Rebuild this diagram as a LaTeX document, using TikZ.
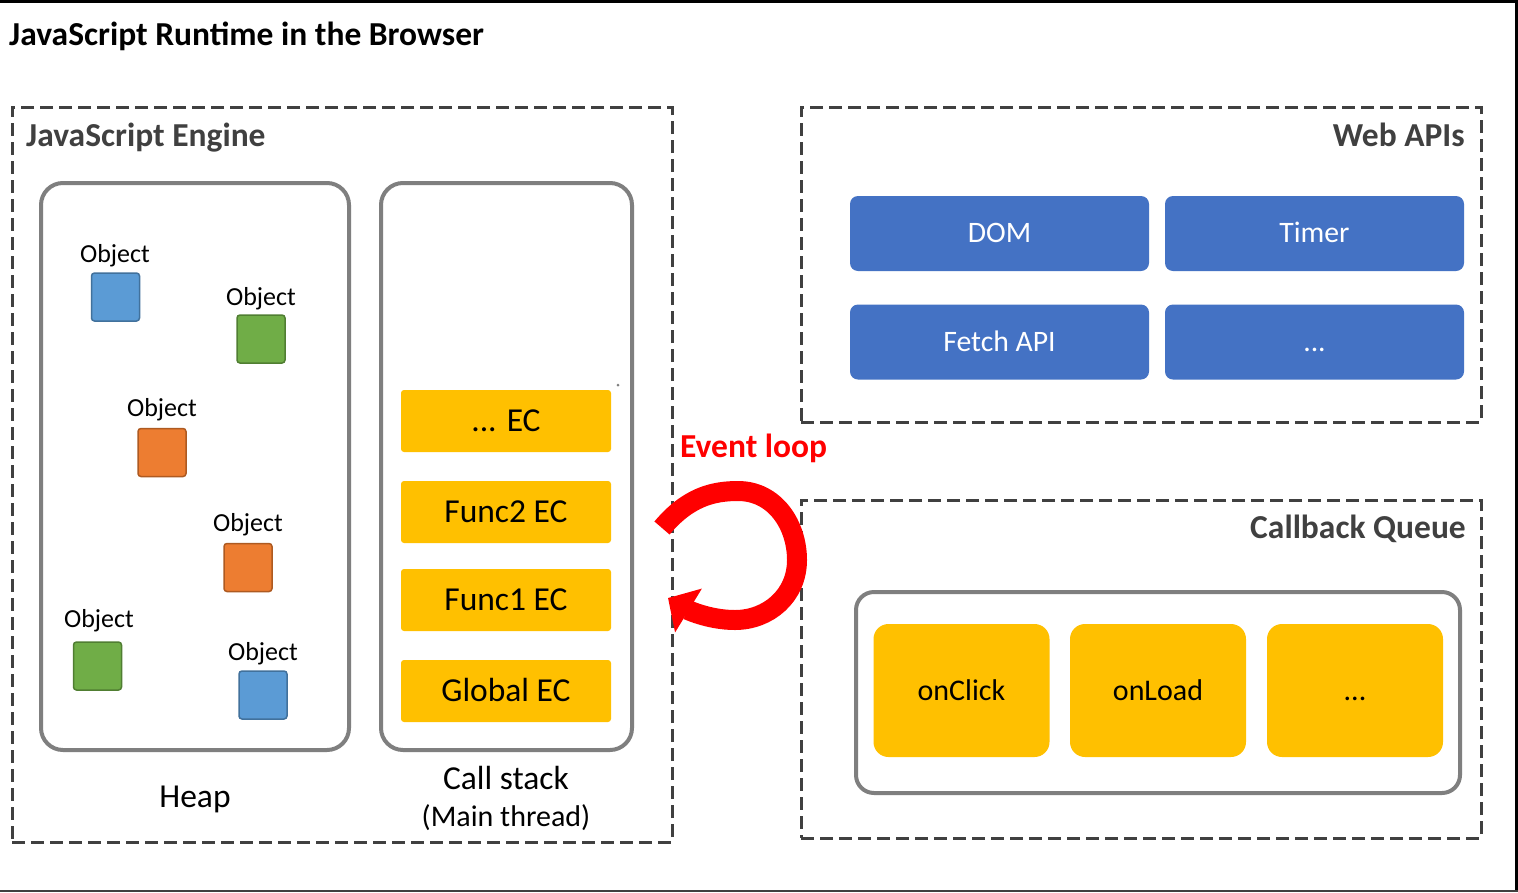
\documentclass[tikz,border=0pt]{standalone}
\usepackage{fontspec}
\setmainfont{Carlito}
\usetikzlibrary{arrows.meta}
\definecolor{dashgray}{HTML}{404040}
\definecolor{panelgray}{HTML}{7F7F7F}
\definecolor{ecyellow}{HTML}{FFC000}
\definecolor{apiblue}{HTML}{4472C4}
\definecolor{objblue}{HTML}{5B9BD5}
\definecolor{objblueb}{HTML}{41719C}
\definecolor{objgreen}{HTML}{70AD47}
\definecolor{objgreenb}{HTML}{507E32}
\definecolor{objorange}{HTML}{ED7D31}
\definecolor{objorangeb}{HTML}{AE5A21}
\begin{document}
\begin{tikzpicture}[x=1pt,y=-1pt,
  txt/.style={inner sep=0pt, text depth=0pt},
  region/.style={draw=dashgray, line width=3, dash pattern=on 13 off 6, inner sep=0pt},
  panel/.style={draw=panelgray, line width=4, rounded corners=22, inner sep=0pt},
  ecbox/.style={fill=ecyellow, rounded corners=3, minimum width=210, minimum height=62, inner sep=0pt,
     text height=21.2pt, text depth=0pt, font=\fontsize{33.5}{36}\selectfont},
  apibox/.style={fill=apiblue, rounded corners=8, minimum width=299, minimum height=75, inner sep=0pt,
     text=white, text height=18.8pt, text depth=0pt, font=\fontsize{29.7}{33}\selectfont},
  cbbox/.style={fill=ecyellow, rounded corners=15, minimum width=176, minimum height=133, inner sep=0pt,
     text height=19pt, text depth=0pt, font=\fontsize{30}{33}\selectfont},
  obj/.style={minimum size=48, line width=1.5, rounded corners=3, inner sep=0pt},
  objlbl/.style={txt, text height=16.4pt, font=\fontsize{26}{29}\selectfont},
  sectitle/.style={txt, text height=21.2pt, text=dashgray, font=\fontsize{33.5}{36}\selectfont\bfseries},
  caption/.style={txt, text height=21.2pt, font=\fontsize{33.5}{36}\selectfont},
]
\useasboundingbox (0,0) rectangle (1518,892);
\fill[white] (0,0) rectangle (1518,892);
% outer frame
\draw[black, line width=3] (0,1.5) -- (1516.5,1.5) -- (1516.5,891);
\draw[dashgray, line width=2] (0,891) -- (1518,891);

% title
\node[txt, text height=21.2pt, anchor=west, font=\fontsize{33.5}{36}\selectfont\bfseries] (title) at (9,35) {JavaScript Runtime in the Browser};

% regions
\node[region, minimum width=660, minimum height=735] (engine) at (342,474.5) {};
\node[region, minimum width=680, minimum height=315] (webapis) at (1141,264.5) {};
\node[region, minimum width=680, minimum height=338] (cbq) at (1141,669) {};
\node[sectitle, anchor=west] (enginelbl) at (26,136) {JavaScript Engine};
\node[sectitle, anchor=east] (webapislbl) at (1465,136) {Web APIs};
\node[sectitle, anchor=east] (cbqlbl) at (1466,528) {Callback Queue};

% heap
\node[panel, minimum width=308, minimum height=567] (heap) at (195,466.5) {};
\node[obj, fill=objblue, draw=objblueb] (o1) at (115.5,297) {};
\node[obj, fill=objgreen, draw=objgreenb] (o2) at (261,339) {};
\node[obj, fill=objorange, draw=objorangeb] (o3) at (162,452.5) {};
\node[obj, fill=objorange, draw=objorangeb] (o4) at (248,567.5) {};
\node[obj, fill=objgreen, draw=objgreenb] (o5) at (97.5,666) {};
\node[obj, fill=objblue, draw=objblueb] (o6) at (263,695) {};
\node[objlbl] (l1) at (115,254) {Object};
\node[objlbl] (l2) at (261,297) {Object};
\node[objlbl] (l3) at (162,408) {Object};
\node[objlbl] (l4) at (248,523) {Object};
\node[objlbl] (l5) at (99,619) {Object};
\node[objlbl] (l6) at (263,652) {Object};
\node[caption] (heaplbl) at (195,797) {Heap};

% call stack
\node[panel, minimum width=251, minimum height=567] (stack) at (506.5,466.5) {};
\node[ecbox] (ec0) at (506,421) {... EC};
\node[ecbox] (ec2) at (506,512) {Func2 EC};
\node[ecbox] (ec1) at (506,600) {Func1 EC};
\node[ecbox] (ecg) at (506,691) {Global EC};
\fill[panelgray] (618,385) circle (1.5);
\node[caption] (stacklbl) at (506,779) {Call stack};
\node[caption, text height=19pt, font=\fontsize{30}{33}\selectfont] (mainlbl) at (506,817) {(Main thread)};

% web apis
\node[apibox] (dom) at (999.5,233.5) {DOM};
\node[apibox] (timer) at (1314.5,233.5) {Timer};
\node[apibox] (fetch) at (999.5,342) {Fetch API};
\node[apibox] (apimore) at (1314.5,342) {...};

% callback queue
\node[panel, rounded corners=18, minimum width=604, minimum height=201] (queue) at (1158,692.5) {};
\node[cbbox] (onclick) at (961.5,690.5) {onClick};
\node[cbbox] (onload) at (1158,690.5) {onLoad};
\node[cbbox] (cbmore) at (1355,690.5) {...};

% event loop
\node[txt, text height=21.2pt, anchor=west, text=red, font=\fontsize{33.5}{36}\selectfont\bfseries] (evlbl) at (680,447) {Event loop};
\draw[red, line width=20, -{Triangle[length=24, width=50]}]
  (662,528) .. controls (688,497) and (713,491) .. (738,491)
  .. controls (775,491) and (797,525) .. (797,560)
  .. controls (797,596) and (768,620) .. (735,620)
  .. controls (708,620) and (686,609) .. (668,598);
\end{tikzpicture}
\end{document}
